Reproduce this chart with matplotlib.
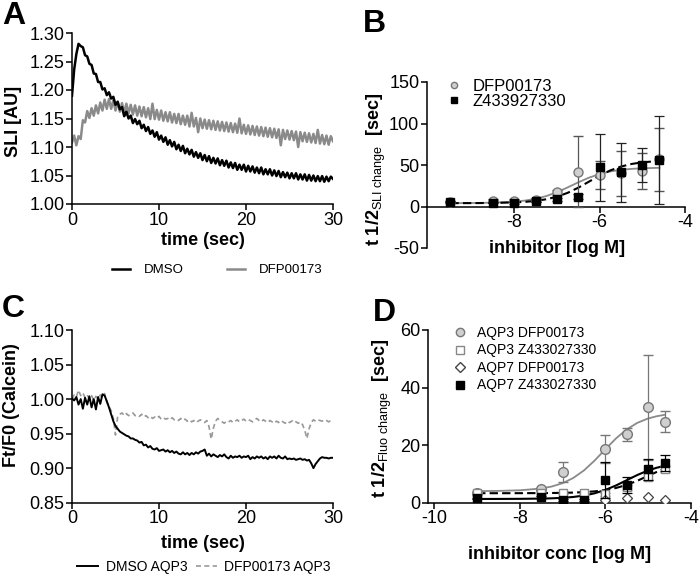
import numpy as np
import matplotlib
matplotlib.use("Agg")
import matplotlib.pyplot as plt
from matplotlib.lines import Line2D
from matplotlib.ticker import FormatStrFormatter

plt.rcParams['font.family'] = ['Liberation Sans', 'DejaVu Sans']
plt.rcParams['mathtext.fontset'] = 'custom'
plt.rcParams['mathtext.rm'] = 'Liberation Sans'
plt.rcParams['mathtext.bf'] = 'Liberation Sans:bold'
plt.rcParams['mathtext.it'] = 'Liberation Sans:italic'
plt.rcParams['axes.unicode_minus'] = False

# ---------------- data ----------------
SAMPLE_STEP = 0.25  # seconds between samples of the traces

# Panel A: SLI traces
sli_dmso = [
    1.190, 1.236, 1.263, 1.281, 1.277, 1.275, 1.261, 1.259, 1.246, 1.244,
    1.229, 1.228, 1.214, 1.214, 1.201, 1.203, 1.191, 1.196, 1.185, 1.188,
    1.174, 1.179, 1.166, 1.170, 1.154, 1.162, 1.150, 1.155, 1.142, 1.149,
    1.140, 1.146, 1.133, 1.139, 1.128, 1.135, 1.123, 1.129, 1.118, 1.126,
    1.113, 1.120, 1.109, 1.117, 1.104, 1.112, 1.101, 1.109, 1.096, 1.104,
    1.093, 1.102, 1.089, 1.097, 1.087, 1.095, 1.083, 1.091, 1.081, 1.089,
    1.077, 1.086, 1.075, 1.084, 1.072, 1.081, 1.071, 1.080, 1.068, 1.077,
    1.067, 1.076, 1.064, 1.073, 1.063, 1.072, 1.060, 1.069, 1.060, 1.069,
    1.057, 1.067, 1.057, 1.066, 1.055, 1.064, 1.054, 1.064, 1.052, 1.061,
    1.052, 1.061, 1.050, 1.059, 1.049, 1.058, 1.047, 1.056, 1.047, 1.055,
    1.045, 1.054, 1.045, 1.054, 1.043, 1.052, 1.043, 1.052, 1.041, 1.051,
    1.041, 1.050, 1.040, 1.049, 1.040, 1.049, 1.039, 1.048, 1.040, 1.048,
    1.044]
sli_dfp = [
    1.108, 1.120, 1.103, 1.119, 1.114, 1.147, 1.143, 1.163, 1.151, 1.168,
    1.155, 1.173, 1.159, 1.178, 1.164, 1.183, 1.167, 1.184, 1.167, 1.182,
    1.164, 1.180, 1.162, 1.177, 1.160, 1.176, 1.159, 1.174, 1.157, 1.173,
    1.155, 1.171, 1.154, 1.170, 1.152, 1.168, 1.149, 1.176, 1.149, 1.165,
    1.148, 1.164, 1.146, 1.161, 1.145, 1.161, 1.143, 1.158, 1.142, 1.158,
    1.140, 1.155, 1.139, 1.155, 1.136, 1.160, 1.136, 1.151, 1.126, 1.150,
    1.133, 1.148, 1.132, 1.147, 1.131, 1.146, 1.130, 1.145, 1.129, 1.144,
    1.128, 1.143, 1.127, 1.142, 1.126, 1.141, 1.125, 1.150, 1.124, 1.139,
    1.123, 1.138, 1.122, 1.137, 1.121, 1.136, 1.120, 1.135, 1.119, 1.134,
    1.118, 1.133, 1.117, 1.132, 1.116, 1.131, 1.103, 1.130, 1.114, 1.129,
    1.113, 1.128, 1.112, 1.127, 1.100, 1.126, 1.110, 1.125, 1.109, 1.124,
    1.108, 1.123, 1.107, 1.130, 1.106, 1.121, 1.105, 1.120, 1.104, 1.119,
    1.110]

# Panel C: calcein traces
calcein_dmso = [
    1.001, 0.998, 1.003, 0.992, 1.000, 0.986, 1.002, 0.992, 1.004, 0.988,
    1.000, 0.985, 1.003, 0.993, 1.007, 1.005, 0.997, 0.988, 0.978, 0.968,
    0.961, 0.957, 0.953, 0.951, 0.949, 0.947, 0.946, 0.943, 0.943, 0.941,
    0.940, 0.937, 0.938, 0.933, 0.934, 0.930, 0.932, 0.928, 0.927, 0.929,
    0.925, 0.926, 0.927, 0.924, 0.926, 0.923, 0.925, 0.922, 0.924, 0.921,
    0.920, 0.923, 0.920, 0.922, 0.919, 0.922, 0.920, 0.923, 0.921, 0.924,
    0.925, 0.927, 0.918, 0.921, 0.917, 0.920, 0.918, 0.916, 0.919, 0.917,
    0.920, 0.916, 0.914, 0.918, 0.915, 0.917, 0.916, 0.918, 0.915, 0.917,
    0.916, 0.918, 0.913, 0.916, 0.914, 0.917, 0.915, 0.917, 0.914, 0.916,
    0.913, 0.917, 0.915, 0.917, 0.914, 0.918, 0.915, 0.914, 0.917, 0.913,
    0.914, 0.913, 0.914, 0.912, 0.913, 0.914, 0.912, 0.913, 0.911, 0.912,
    0.907, 0.900, 0.906, 0.910, 0.914, 0.916, 0.915, 0.915, 0.914, 0.915,
    0.915]
calcein_dfp = [
    1.000, 1.006, 1.003, 1.013, 1.005, 1.009, 1.002, 1.006, 1.000, 1.005,
    0.998, 1.004, 1.000, 1.006, 1.002, 1.008, 0.995, 0.990, 0.983, 0.972,
    0.948, 0.975, 0.978, 0.980, 0.976, 0.979, 0.976, 0.978, 0.980, 0.976,
    0.977, 0.975, 0.978, 0.974, 0.976, 0.973, 0.975, 0.972, 0.974, 0.972,
    0.975, 0.971, 0.973, 0.971, 0.972, 0.970, 0.973, 0.970, 0.971, 0.969,
    0.972, 0.969, 0.971, 0.968, 0.970, 0.967, 0.969, 0.966, 0.968, 0.970,
    0.968, 0.966, 0.969, 0.960, 0.942, 0.958, 0.968, 0.972, 0.969, 0.967,
    0.965, 0.968, 0.967, 0.969, 0.966, 0.968, 0.970, 0.967, 0.969, 0.971,
    0.968, 0.970, 0.969, 0.967, 0.970, 0.972, 0.969, 0.967, 0.970, 0.968,
    0.966, 0.969, 0.967, 0.965, 0.968, 0.966, 0.969, 0.967, 0.965, 0.968,
    0.966, 0.968, 0.970, 0.967, 0.965, 0.967, 0.963, 0.955, 0.943, 0.957,
    0.966, 0.970, 0.968, 0.970, 0.969, 0.968, 0.970, 0.969, 0.967, 0.969,
    0.968]

# Panel B: dose response (SLI)
conc_b = [-9.5, -8.5, -8.0, -7.5, -7.0, -6.5, -6.0, -5.5, -5.0, -4.6]
b_dfp = [5, 7, 7, 8, 17, 42, 38, 40, 42.5, 57]
b_dfp_err = [1, 1.5, 1.5, 2, 3, 43, 17, 27, 22, 38]
b_z = [6, 4.8, 4, 7, 8.7, 12, 47, 41, 50, 56]
b_z_err = [1, 1, 1, 1.5, 2, 3, 40, 36, 20, 53]
fit_x_b = [-9.5, -9.0, -8.5, -8.0, -7.75, -7.5, -7.25, -7.0, -6.75, -6.5,
           -6.25, -6.0, -5.75, -5.5, -5.25, -5.0, -4.6]
fit_b_dfp = [4.06, 4.19, 4.60, 5.84, 7.16, 9.32, 12.63, 17.27, 23.03, 29.18,
             34.76, 39.13, 42.19, 44.16, 45.35, 46.06, 46.62]
fit_b_z = [4.03, 4.09, 4.29, 4.91, 5.59, 6.77, 8.73, 11.85, 16.5, 22.72,
           30.0, 37.29, 43.51, 48.14, 51.27, 53.23, 54.86]

# Panel D: dose response (fluorescence)
conc_d = [-9.0, -7.5, -7.0, -6.5, -6.0, -5.5, -5.0, -4.6]
d_aqp3_dfp = [3.5, 4.6, 10.6, np.nan, 18.7, 23.8, 33.1, 28.2]
d_aqp3_dfp_err = [0.3, 0.5, 3.4, np.nan, 4.8, 2.3, 18.2, 3.7]
d_aqp3_z = [3.4, 3.3, 3.2, 3.2, 3.0, 5.3, 8.8, 11.6]
d_aqp3_z_err = [0.3, 0.3, 0.3, 0.3, 0.5, 1.0, 1.0, 1.0]
d_aqp7_dfp = [np.nan, np.nan, np.nan, np.nan, 0.9, 1.5, 1.9, 0.9]
d_aqp7_z = [1.5, 2.1, 0.9, 0.9, 7.9, 6.1, 11.6, 13.7]
d_aqp7_z_err = [0.3, 0.3, 0.3, 0.3, 6.3, 2.9, 3.7, 2.8]
fit_x_d = [-9.0, -8.5, -8.0, -7.5, -7.25, -7.0, -6.75, -6.5, -6.25, -6.0,
           -5.75, -5.5, -5.25, -5.0, -4.8, -4.6]
fit_d_aqp3_dfp = [4.03, 4.10, 4.31, 4.94, 5.63, 6.77, 8.58, 11.20, 14.64, 18.54,
                  22.32, 25.45, 27.74, 29.25, 30.03, 30.56]
fit_d_aqp3_z = [3.30, 3.30, 3.31, 3.34, 3.37, 3.42, 3.51, 3.68, 3.94, 4.39,
                5.11, 6.18, 7.62, 9.30, 10.66, 11.88]
fit_d_aqp7_z = [1.30, 1.31, 1.34, 1.43, 1.52, 1.70, 1.99, 2.48, 3.26, 4.43,
                5.98, 7.80, 9.62, 11.18, 12.13, 12.85]

# ---------------- style ----------------
TICK_FS = 13
LAB_FS = 13
GRAY = '#8a8a8a'
LGRAY = '#cfcfcf'

fig = plt.figure(figsize=(7.0, 5.75), dpi=100)
W, H = 700.0, 575.0


def add_axes(left, top, right, bottom):
    return fig.add_axes([left / W, 1 - bottom / H, (right - left) / W, (bottom - top) / H])


def style(ax):
    for s in ['top', 'right']:
        ax.spines[s].set_visible(False)
    for s in ['left', 'bottom']:
        ax.spines[s].set_linewidth(1.1)
    ax.tick_params(direction='out', length=4, width=1.1, labelsize=TICK_FS, pad=1.5)


# ---------- Panel A ----------
axA = add_axes(72, 33, 333, 204)
style(axA)
tA = np.arange(len(sli_dmso)) * SAMPLE_STEP
axA.plot(tA, sli_dfp, color=GRAY, lw=1.8, label='DFP00173', zorder=2)
axA.plot(tA, sli_dmso, color='black', lw=1.8, label='DMSO', zorder=3)
axA.set_xlim(0, 30)
axA.set_ylim(1.0, 1.30)
axA.set_xticks([0, 10, 20, 30])
axA.set_yticks([1.00, 1.05, 1.10, 1.15, 1.20, 1.25, 1.30])
axA.yaxis.set_major_formatter(FormatStrFormatter('%.2f'))
axA.set_xlabel('time (sec)', fontsize=LAB_FS, fontweight='bold')
axA.xaxis.set_label_coords(0.5, -0.165)
axA.set_ylabel('SLI [AU]', fontsize=LAB_FS, fontweight='bold')
axA.yaxis.set_label_coords(-0.19, 0.48)
hA = [Line2D([], [], color='black', lw=1.8), Line2D([], [], color=GRAY, lw=1.8)]
fig.legend(hA, ['DMSO', 'DFP00173'], loc='center', bbox_to_anchor=(217 / W, 1 - 270 / H),
           ncol=2, frameon=False, fontsize=9.5, handlelength=1.4, handletextpad=1.0,
           columnspacing=3.3, borderpad=0, borderaxespad=0)

# ---------- Panel B ----------
axB = add_axes(427, 82, 685, 248)
style(axB)
axB.spines['bottom'].set_position(('data', 0))
axB.plot(fit_x_b, fit_b_dfp, color=GRAY, lw=1.3, zorder=2)
axB.plot(fit_x_b, fit_b_z, color='black', lw=1.5, ls=(0, (4, 2)), zorder=2)
axB.errorbar(conc_b, b_dfp, yerr=b_dfp_err, fmt='o', ms=6.5, mfc=LGRAY, mec='#777777',
             mew=1.0, ecolor='#555555', elinewidth=0.9, capsize=3.5, capthick=0.9, zorder=3)
axB.errorbar(conc_b, b_z, yerr=b_z_err, fmt='s', ms=6, mfc='black', mec='black',
             ecolor='#222222', elinewidth=0.9, capsize=3.5, capthick=0.9, zorder=4)
axB.set_xlim(-10.05, -4)
axB.set_ylim(-50, 150)
axB.set_xticks([-8, -6, -4])
axB.set_yticks([-50, 0, 50, 100, 150])
axB.set_xlabel('inhibitor [log M]', fontsize=LAB_FS, fontweight='bold')
axB.xaxis.set_label_coords(0.505, 0.05)
axB.set_ylabel(r'$\mathbf{t\ 1/2}_{\mathregular{SLI\ change}}\ \ \mathbf{[sec]}$', fontsize=LAB_FS)
axB.yaxis.set_label_coords(-0.15, 0.476)
hB = [Line2D([], [], ls='none', marker='o', ms=4.5, mfc=LGRAY, mec='#777777'),
      Line2D([], [], ls='none', marker='s', ms=4.5, mfc='black', mec='black')]
axB.legend(hB, ['DFP00173', 'Z433927330'], loc='center left',
           bbox_to_anchor=(446 / W, 1 - 94 / H), bbox_transform=fig.transFigure,
           frameon=False, fontsize=12, handlelength=1.0, handletextpad=0.6,
           labelspacing=0.0, borderpad=0, borderaxespad=0)

# ---------- Panel C ----------
axC = add_axes(72, 330, 333, 502.7)
style(axC)
tC = np.arange(len(calcein_dmso)) * SAMPLE_STEP
axC.plot(tC, calcein_dmso, color='black', lw=1.4, zorder=3)
axC.plot(tC, calcein_dfp, color='#999999', lw=1.2, ls=(0, (3, 2)), zorder=2)
axC.set_xlim(0, 30)
axC.set_ylim(0.85, 1.10)
axC.set_xticks([0, 10, 20, 30])
axC.set_yticks([0.85, 0.90, 0.95, 1.00, 1.05, 1.10])
axC.yaxis.set_major_formatter(FormatStrFormatter('%.2f'))
axC.set_xlabel('time (sec)', fontsize=LAB_FS, fontweight='bold')
axC.xaxis.set_label_coords(0.5, -0.185)
axC.set_ylabel('Ft/F0 (Calcein)', fontsize=LAB_FS, fontweight='bold')
axC.yaxis.set_label_coords(-0.2, 0.566)
hC = [Line2D([], [], color='black', lw=1.4), Line2D([], [], color='#999999', lw=1.2, ls=(0, (3, 2)))]
fig.legend(hC, ['DMSO AQP3', 'DFP00173 AQP3'], loc='center', bbox_to_anchor=(204 / W, 1 - 567 / H),
           ncol=2, frameon=False, fontsize=10, handlelength=1.5, handletextpad=0.55,
           columnspacing=0.6, borderpad=0, borderaxespad=0)

# ---------- Panel D ----------
axD = add_axes(428, 330, 690.7, 502.7)
style(axD)
axD.plot(fit_x_d, fit_d_aqp3_dfp, color=GRAY, lw=1.3, zorder=2)
axD.plot(fit_x_d, fit_d_aqp3_z, color='black', lw=1.5, ls=(0, (4, 2)), zorder=2)
axD.plot(fit_x_d, fit_d_aqp7_z, color='black', lw=1.5, zorder=2)
axD.errorbar(conc_d, d_aqp3_dfp, yerr=d_aqp3_dfp_err, fmt='o', ms=7, mfc=LGRAY, mec='#777777',
             mew=1.0, ecolor='#777777', elinewidth=0.9, capsize=3.5, capthick=0.9, zorder=3)
axD.errorbar(conc_d, d_aqp3_z, yerr=d_aqp3_z_err, fmt='s', ms=6, mfc='white', mec='#888888',
             mew=1.0, ecolor='#888888', elinewidth=0.9, capsize=3.5, capthick=0.9, zorder=4)
axD.plot(conc_d, d_aqp7_dfp, ls='none', marker='D', ms=5.5, mfc='white', mec='#444444',
         mew=0.9, zorder=5)
axD.errorbar(conc_d, d_aqp7_z, yerr=d_aqp7_z_err, fmt='s', ms=6, mfc='black', mec='black',
             ecolor='black', elinewidth=0.9, capsize=3.5, capthick=0.9, zorder=6)
axD.set_xlim(-10.15, -4)
axD.set_ylim(0, 60)
axD.set_xticks([-10, -8, -6, -4])
axD.set_yticks([0, 20, 40, 60])
axD.set_xlabel('inhibitor conc [log M]', fontsize=LAB_FS, fontweight='bold')
axD.xaxis.set_label_coords(0.5, -0.25)
axD.set_ylabel(r'$\mathbf{t\ 1/2}_{\mathregular{Fluo\ change}}\ \ \mathbf{[sec]}$', fontsize=LAB_FS)
axD.yaxis.set_label_coords(-0.13, 0.49)
hD = [Line2D([], [], ls='none', marker='o', ms=6, mfc=LGRAY, mec='#777777'),
      Line2D([], [], ls='none', marker='s', ms=5.5, mfc='white', mec='#888888'),
      Line2D([], [], ls='none', marker='D', ms=5, mfc='white', mec='#444444'),
      Line2D([], [], ls='none', marker='s', ms=5.5, mfc='black', mec='black')]
axD.legend(hD, ['AQP3 DFP00173', 'AQP3 Z433027330', 'AQP7 DFP00173', 'AQP7 Z433027330'],
           loc='upper left', bbox_to_anchor=(453 / W, 1 - 326 / H), bbox_transform=fig.transFigure,
           frameon=False, fontsize=10, handlelength=1.0, handletextpad=0.75,
           labelspacing=0.25, borderpad=0, borderaxespad=0)

# Panel letters
for letter, x, y in [('A', 2, 1), ('B', 363, 9), ('C', 2, 294), ('D', 373, 298)]:
    fig.text(x / W, 1 - y / H, letter, fontsize=23, fontweight='bold', ha='left', va='top')

fig.savefig('out.png', dpi=100)
